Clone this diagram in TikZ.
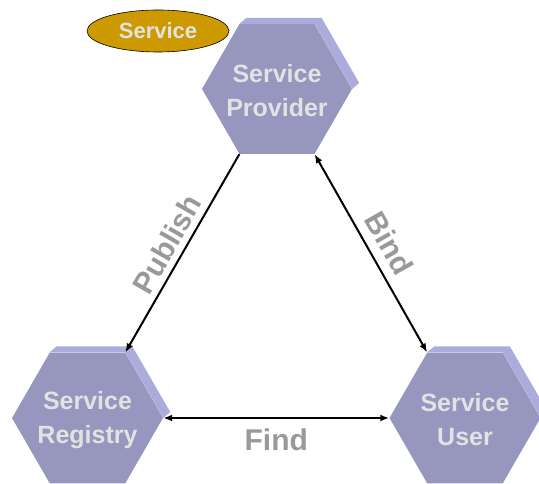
\documentclass[tikz,border=0pt]{standalone}
\usepackage{fontspec}
\setmainfont{Liberation Sans}
\usetikzlibrary{shapes.geometric,calc,arrows.meta}
\definecolor{hexfront}{RGB}{150,150,190}
\definecolor{hexbevel}{RGB}{172,172,220}
\definecolor{hextext}{RGB}{226,226,226}
\definecolor{labelgray}{RGB}{153,153,153}
\definecolor{servgold}{RGB}{204,153,0}
\newcommand{\hexfont}{\fontsize{25}{34}\selectfont\bfseries}
\newcommand{\edgefont}{\fontsize{30}{30}\selectfont\bfseries}
\newcommand{\tip}{Latex[length=9pt,width=7pt]}

\begin{document}
\begin{tikzpicture}[x=1pt,y=1pt,every node/.style={inner sep=0pt},
	hexa/.style={regular polygon,regular polygon sides=6,minimum size=150pt,fill=hexfront},
	hexlabel/.style={text=hextext,font=\hexfont,align=center}]
	\useasboundingbox (0,0) rectangle (539,484);
	
	\node[hexa] (prov) at (277,395){};
	\node[hexa,minimum size=151pt] (reg) at (87.5,66){};
	\node[hexa,minimum size=151pt] (user) at (465,66){};
	\node[hexlabel] (provtxt) at ([yshift=-2pt]prov.center){Service\\Provider};
	\node[hexlabel] (regtxt) at ([yshift=-2pt]reg.center){Service\\Registry};
	\node[hexlabel] (usertxt) at ([yshift=-2pt]user.center){Service\\User};
	\node[ellipse,draw=black,line width=.6pt,fill=servgold,text=hextext,
		minimum width=142pt,minimum height=42pt,
		font=\fontsize{22}{22}\selectfont\bfseries] (serv) at (158,453){Service};
	%bevels
	\foreach \h in {prov,reg,user}
		\fill[hexbevel] (\h.120) -- ($(\h.120)+(7,6)$) -- ($(\h.60)+(7,6)$)
			-- ($(\h.0)+(7,6)$) -- (\h.0) -- (\h.60) -- cycle;
	\begin{scope}[line width=2pt, every node/.style={sloped,inner sep=0pt,font=\edgefont,text=labelgray}]
	%edges
	\draw[-{\tip}] (prov.240) -- node[above=6pt]{Publish} (reg.60);
	\draw[{\tip}-{\tip}] (prov.300) -- node[above=9pt]{Bind} (user.120);
	\draw[{\tip}-{\tip}] (reg.0) -- node[below=10pt]{Find} (user.180);
	
	\end{scope}
\end{tikzpicture}
\end{document}
